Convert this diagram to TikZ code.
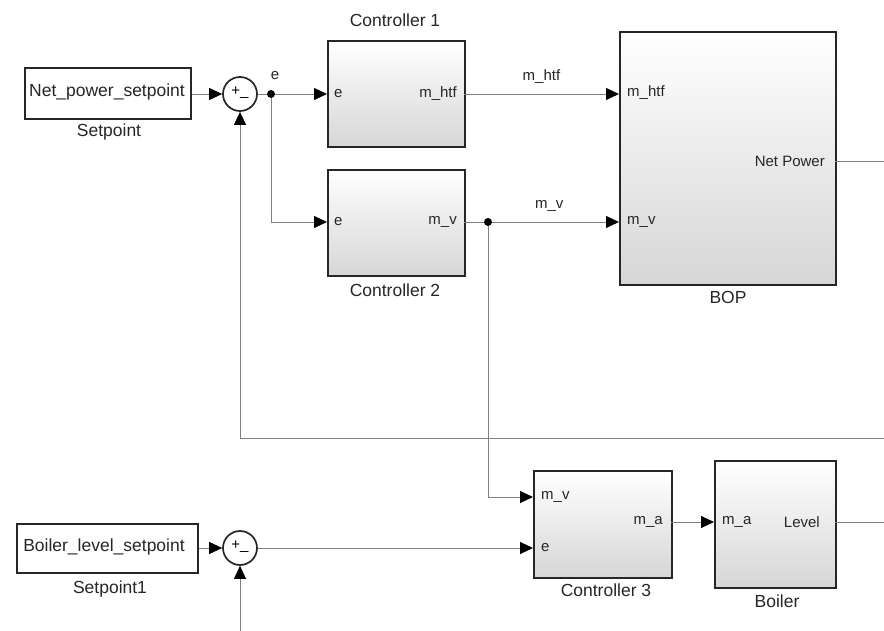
\documentclass[tikz,border=0pt]{standalone}
\usepackage{fontspec}
\setmainfont{Liberation Sans}
\usetikzlibrary{arrows.meta,shadows}
\tikzset{
  block/.style={draw=black!85, line width=1.7pt, top color=white, bottom color=black!16,
    inner sep=0pt, anchor=north west,
    drop shadow={shadow xshift=1.3pt, shadow yshift=-1.3pt, fill=black!35}},
  srcbox/.style={draw=black!85, line width=1.7pt, fill=white, inner sep=0pt, anchor=north west,
    drop shadow={shadow xshift=1.3pt, shadow yshift=-1.3pt, fill=black!35}},
  sumnode/.style={circle, draw=black!85, line width=1.7pt, fill=white, minimum size=34pt, inner sep=0pt},
  wire/.style={draw=black!50, line width=0.9pt},
  arr/.style={wire, -{Triangle[length=13pt,width=12pt,color=black]}},
  big/.style={font=\fontsize{17.5}{20}\selectfont, text=black!85, inner sep=0pt},
  port/.style={font=\fontsize{15}{18}\selectfont, text=black!85, inner sep=0pt},
  signs/.style={font=\fontsize{15}{18}\selectfont, text=black, inner sep=0pt},
  dotnode/.style={circle, fill=black, minimum size=8pt, inner sep=0pt}
}
\begin{document}
\begin{tikzpicture}[x=1pt,y=-1pt]
\useasboundingbox (0,0) rectangle (884,631);

% source blocks
\node[srcbox, minimum width=166pt, minimum height=51pt] (sp1) at (24,67) {};
\node[big] (sp1t) at (107,92) {Net\_power\_setpoint};
\node[big] (sp1l) at (109,132) {Setpoint};

\node[srcbox, minimum width=181pt, minimum height=49pt] (sp2) at (16,523) {};
\node[big] (sp2t) at (104,547) {Boiler\_level\_setpoint};
\node[big] (sp2l) at (110,589) {Setpoint1};

% sums
\node[sumnode] (sum1) at (240,94) {};
\node[signs] (sum1s) at (240,93) {+\_};
\node[sumnode] (sum2) at (240,548) {};
\node[signs] (sum2s) at (240,547) {+\_};

% controllers
\node[block, minimum width=137pt, minimum height=106pt] (c1) at (327,40) {};
\node[big] (c1l) at (395,20) {Controller 1};
\node[port, anchor=west] (c1e) at (334,94) {e};
\node[port, anchor=east] (c1o) at (457,94) {m\_htf};

\node[block, minimum width=137pt, minimum height=106pt] (c2) at (327,169) {};
\node[big] (c2l) at (395,290) {Controller 2};
\node[port, anchor=west] (c2e) at (334,222) {e};
\node[port, anchor=east] (c2o) at (457,222) {m\_v};

\node[block, minimum width=216pt, minimum height=253pt] (bop) at (619,31) {};
\node[big] (bopl) at (728,297) {BOP};
\node[port, anchor=west] (bop1) at (627,93) {m\_htf};
\node[port, anchor=west] (bop2) at (627,222) {m\_v};
\node[port, anchor=east] (bopo) at (825,161) {Net Power};

\node[block, minimum width=138pt, minimum height=107pt] (c3) at (533,470) {};
\node[big] (c3l) at (606,590) {Controller 3};
\node[port, anchor=west] (c3a) at (541,497) {m\_v};
\node[port, anchor=west] (c3b) at (541,548) {e};
\node[port, anchor=east] (c3o) at (663,522) {m\_a};

\node[block, minimum width=121pt, minimum height=127pt] (boil) at (714,460) {};
\node[big] (boill) at (777,601) {Boiler};
\node[port, anchor=west] (boila) at (722,522) {m\_a};
\node[port, anchor=east] (boilo) at (820,522) {Level};

% port coordinates
\coordinate (c1in) at (327,94);
\coordinate (c1out) at (464,94);
\coordinate (c2in) at (327,222);
\coordinate (c2out) at (464,222);
\coordinate (bopin1) at (619,94);
\coordinate (bopin2) at (619,222);
\coordinate (bopout) at (835,161);
\coordinate (c3in1) at (533,497);
\coordinate (c3in2) at (533,548);
\coordinate (c3out) at (671,522);
\coordinate (boilin) at (714,522);
\coordinate (boilout) at (835,522);
\coordinate (endnp) at (884,161);
\coordinate (endlv) at (884,522);
\coordinate (fbin) at (884,438);
\coordinate (fbcorner) at (240,438);
\coordinate (sum2in) at (240,631);

% branch points
\node[dotnode] (b1) at (271,94) {};
\node[port] (elab) at (275,76) {e};
\node[dotnode] (b2) at (488,222) {};

% wires
\draw[arr] (sp1.east |- sum1) -- (sum1.west);
\draw[wire] (sum1.east) -- (b1);
\draw[arr] (b1) -- (c1in);
\draw[arr] (b1) |- (c2in);
\draw[arr] (c1out) -- node[port, above=10pt] (lhtf) {m\_htf} (bopin1);
\draw[wire] (c2out) -- (b2);
\draw[arr] (b2) -- node[port, above=10pt, pos=0.45] (lmv) {m\_v} (bopin2);
\draw[wire] (bopout) -- (endnp);
\draw[wire] (fbin) -- (fbcorner);
\draw[arr] (fbcorner) -- (sum1.south);
\draw[arr] (b2) |- (c3in1);

\draw[arr] (sp2.east |- sum2) -- (sum2.west);
\draw[arr] (sum2.east) -- (c3in2);
\draw[arr] (sum2in) -- (sum2.south);
\draw[arr] (c3out) -- (boilin);
\draw[wire] (boilout) -- (endlv);
\end{tikzpicture}
\end{document}
